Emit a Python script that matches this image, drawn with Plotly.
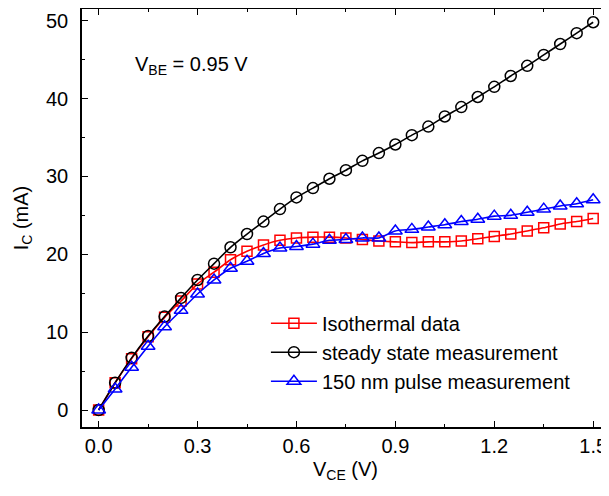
import plotly.graph_objects as go

vce = [0.0, 0.05, 0.1, 0.15, 0.2, 0.25, 0.3, 0.35, 0.4, 0.45, 0.5, 0.55, 0.6, 0.65, 0.7, 0.75,
       0.8, 0.85, 0.9, 0.95, 1.0, 1.05, 1.1, 1.15, 1.2, 1.25, 1.3, 1.35, 1.4, 1.45, 1.5]

isothermal = [0, 3.5, 6.6, 9.4, 11.9, 14.0, 16.2, 17.7, 19.3, 20.4, 21.2, 21.8, 22.1, 22.2, 22.2, 22.1,
              21.9, 21.7, 21.6, 21.5, 21.6, 21.6, 21.7, 22.0, 22.3, 22.6, 23.0, 23.4, 23.9, 24.2, 24.6]

steady = [0, 3.5, 6.7, 9.5, 12.0, 14.4, 16.7, 18.8, 20.9, 22.6, 24.2, 25.8, 27.3, 28.5, 29.7, 30.8,
          32.0, 33.0, 34.1, 35.3, 36.4, 37.7, 38.9, 40.2, 41.5, 42.9, 44.2, 45.6, 47.0, 48.4, 49.8]

pulse = [0, 2.7, 5.5, 8.2, 10.7, 12.8, 14.9, 16.7, 18.2, 19.1, 20.1, 20.8, 21.0, 21.3, 21.8, 21.9,
         22.1, 22.1, 23.0, 23.2, 23.5, 23.8, 24.2, 24.5, 24.9, 25.0, 25.4, 25.8, 26.2, 26.5, 27.0]

x_ticks = [0.0, 0.3, 0.6, 0.9, 1.2, 1.5]
x_ticktext = ["0.0", "0.3", "0.6", "0.9", "1.2", "1.5"]
y_ticks = [0, 10, 20, 30, 40, 50]

FONT = "Arial, Liberation Sans, sans-serif"

fig = go.Figure()
series = [
    ("Isothermal data", isothermal, "#ff0000", "square-open", 10),
    ("steady state measurement", steady, "#000000", "circle-open", 11),
    ("150 nm pulse measurement", pulse, "#0000ff", "triangle-up-open", 12),
]
for name, ys, col, sym, sz in series:
    fig.add_trace(go.Scatter(
        x=vce, y=ys, name=name, mode="lines+markers",
        line=dict(color=col, width=1.6, shape="spline", smoothing=0.6),
        marker=dict(symbol=sym, size=sz, color=col, line=dict(color=col, width=1.5)),
    ))

fig.add_annotation(
    x=0.105, y=44.3, xref="x", yref="y", xanchor="left", yanchor="middle",
    text="V<sub>BE</sub> = 0.95 V", showarrow=False,
    font=dict(family=FONT, size=20, color="black"),
)

# the page body adds an 8px offset, so the figure is 8px smaller than the window
fig.update_layout(
    width=601, height=488,
    margin=dict(l=74, r=0, t=1, b=69),
    paper_bgcolor="white", plot_bgcolor="white",
    font=dict(family=FONT, size=20, color="black"),
    showlegend=True,
    legend=dict(
        x=0.349, y=0.179, xanchor="left", yanchor="middle",
        bgcolor="rgba(0,0,0,0)", font=dict(size=20, family=FONT),
        tracegroupgap=0, itemwidth=46,
    ),
    xaxis=dict(
        range=[-0.0505, 1.548], tickvals=x_ticks, ticktext=x_ticktext,
        ticks="inside", ticklen=6, tickwidth=1.2, tickcolor="black",
        showline=True, linecolor="black", linewidth=1.5, mirror="ticks",
        showgrid=False, zeroline=False,
        minor=dict(ticks="inside", ticklen=3.5, dtick=0.15, tick0=0, tickcolor="black", showgrid=False),
        title=dict(text="V<sub>CE</sub> (V)", font=dict(size=20, family=FONT), standoff=6),
        tickfont=dict(size=20, family=FONT),
    ),
    yaxis=dict(
        range=[-2.18, 51.5], tickvals=y_ticks,
        ticks="inside", ticklen=6, tickwidth=1.2, tickcolor="black",
        showline=True, linecolor="black", linewidth=1.5,
        showgrid=False, zeroline=False,
        minor=dict(ticks="inside", ticklen=3.5, dtick=5, tick0=0, tickcolor="black", showgrid=False),
        title=dict(text="I<sub>C</sub> (mA)", font=dict(size=20, family=FONT), standoff=12),
        tickfont=dict(size=20, family=FONT),
        ticklabelstandoff=8,
    ),
)

fig.write_html("out.html")
